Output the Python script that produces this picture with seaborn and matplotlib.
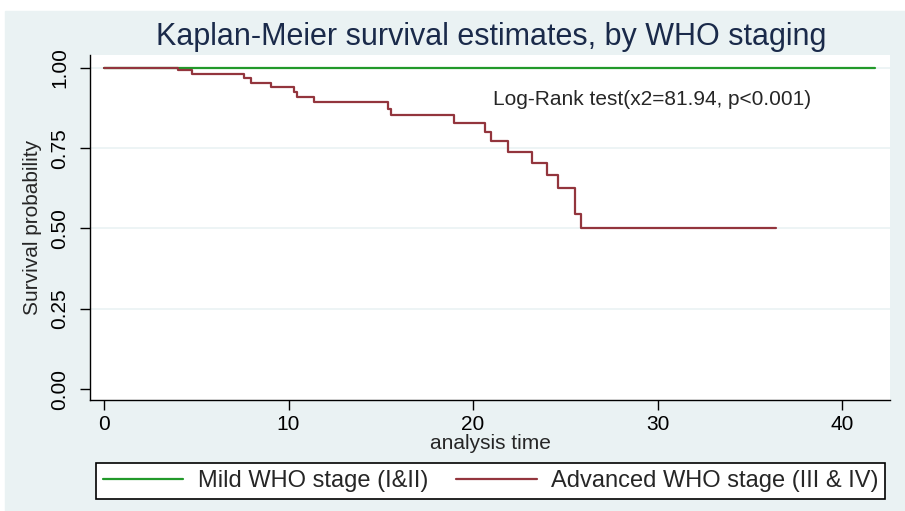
import numpy as np
import pandas as pd
import matplotlib.pyplot as plt
import matplotlib.patches as mpatches
import seaborn as sns

# step curves (time, survival after the step)
mild_time = [0, 41.8]
mild_surv = [1.0, 1.0]

adv_time = [0, 4.0, 4.75, 7.6, 7.95, 9.05, 10.3, 10.45, 11.4, 15.4, 15.55,
            18.95, 20.65, 21.0, 21.9, 23.2, 24.0, 24.6, 25.5, 25.85, 36.4]
adv_surv = [1.0, 0.992, 0.98, 0.968, 0.954, 0.94, 0.926, 0.909, 0.894, 0.873, 0.853,
            0.828, 0.80, 0.772, 0.737, 0.703, 0.666, 0.625, 0.545, 0.50, 0.50]

groups = ["Mild WHO stage (I&II)", "Advanced WHO stage (III & IV)"]
x_ticks = [0, 10, 20, 30, 40]
y_ticks = [0.00, 0.25, 0.50, 0.75, 1.00]

df = pd.concat([
    pd.DataFrame({"time": mild_time, "surv": mild_surv, "group": groups[0]}),
    pd.DataFrame({"time": adv_time, "surv": adv_surv, "group": groups[1]}),
])

sns.set_style("white")
plt.rcParams["font.family"] = ["Liberation Sans", "DejaVu Sans"]

panel = "#eaf2f3"
colors = ["#22992a", "#93353d"]
fig = plt.figure(figsize=(9.05, 5.11), dpi=100, facecolor="white")
# light panel behind the whole graph (white strip at top and left)
fig.patches.append(mpatches.Rectangle((5 / 905, 0), 1, 1 - 11 / 511,
                                      transform=fig.transFigure, color=panel, zorder=-1))
ax = fig.add_axes([90 / 905, 1 - 400 / 511, 800 / 905, 345 / 511])
ax.set_facecolor("white")

sns.lineplot(data=df, x="time", y="surv", hue="group", hue_order=groups,
             palette=colors, estimator=None, drawstyle="steps-post",
             linewidth=1.6, ax=ax, legend=False)

ax.set_xlim(-0.76, 42.6)
ax.set_ylim(-0.034, 1.04)
ax.set_xticks(x_ticks)
ax.set_yticks(y_ticks)
ax.set_yticklabels([f"{v:.2f}" for v in y_ticks], rotation=90, va="center")
ax.tick_params(axis="both", direction="out", length=7, width=1, labelsize=15,
               color="black", labelcolor="black", left=True, bottom=True)
ax.tick_params(axis="x", pad=4)
ax.tick_params(axis="y", pad=8)
for yv in y_ticks[1:]:
    ax.axhline(yv, color=panel, linewidth=1.2, zorder=0)

for side in ["top", "right"]:
    ax.spines[side].set_visible(False)
for side in ["left", "bottom"]:
    ax.spines[side].set_color("black")
    ax.spines[side].set_linewidth(1)

ax.set_xlabel("analysis time", fontsize=15, labelpad=0)
ax.set_ylabel("Survival probability", fontsize=15, labelpad=6)
fig.suptitle("Kaplan-Meier survival estimates, by WHO staging", fontsize=22,
             color="#1a2a4a", x=0.543, y=0.956)

ax.text(21.1, 0.90, "Log-Rank test(x2=81.94, p<0.001)", fontsize=15, ha="left", va="center")

handles = [plt.Line2D([], [], color=c, linewidth=1.6) for c in colors]
leg = fig.legend(handles, groups, loc="upper left", ncol=2,
                 bbox_to_anchor=(96 / 905, 1 - 463 / 511),
                 fontsize=17, frameon=True, fancybox=False, edgecolor="black",
                 handlelength=3.4, handletextpad=0.6, columnspacing=1.2,
                 borderpad=0.3, borderaxespad=0)
leg.get_frame().set_linewidth(1.2)
leg.get_frame().set_facecolor("white")
leg.get_frame().set_alpha(1)

fig.savefig("out.png", dpi=100, facecolor="white")
